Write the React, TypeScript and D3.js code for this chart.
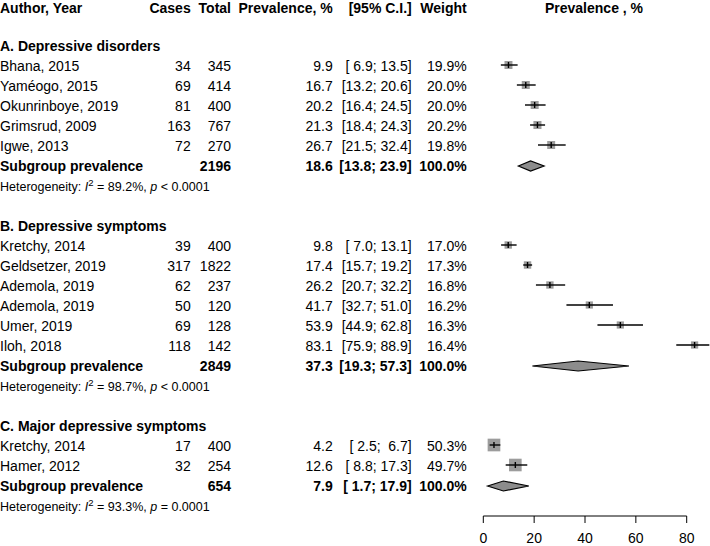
import React from "react";
import * as d3 from "d3";

const groupTitles = ["A. Depressive disorders", "B. Depressive symptoms", "C. Major depressive symptoms"];
const groupTotals = [2196, 2849, 654];
const groupPrev = [18.6, 37.3, 7.9];
const groupLower = [13.8, 19.3, 1.7];
const groupUpper = [23.9, 57.3, 17.9];
const groupI2 = ["89.2%", "98.7%", "93.3%"];
const groupP = ["< 0.0001", "< 0.0001", "= 0.0001"];

const studyAuthors = [
  "Bhana, 2015", "Yaméogo, 2015", "Okunrinboye, 2019", "Grimsrud, 2009", "Igwe, 2013",
  "Kretchy, 2014", "Geldsetzer, 2019", "Ademola, 2019", "Ademola, 2019", "Umer, 2019", "Iloh, 2018",
  "Kretchy, 2014", "Hamer, 2012",
];
const studyGroup = [0, 0, 0, 0, 0, 1, 1, 1, 1, 1, 1, 2, 2];
const studyCases = [34, 69, 81, 163, 72, 39, 317, 62, 50, 69, 118, 17, 32];
const studyTotals = [345, 414, 400, 767, 270, 400, 1822, 237, 120, 128, 142, 400, 254];
const studyPrev = [9.9, 16.7, 20.2, 21.3, 26.7, 9.8, 17.4, 26.2, 41.7, 53.9, 83.1, 4.2, 12.6];
const studyLower = [6.9, 13.2, 16.4, 18.4, 21.5, 7.0, 15.7, 20.7, 32.7, 44.9, 75.9, 2.5, 8.8];
const studyUpper = [13.5, 20.6, 24.5, 24.3, 32.4, 13.1, 19.2, 32.2, 51.0, 62.8, 88.9, 6.7, 17.3];
const studyWeight = [19.9, 20.0, 20.0, 20.2, 19.8, 17.0, 17.3, 16.8, 16.2, 16.3, 16.4, 50.3, 49.7];

const axisTicks = [0, 20, 40, 60, 80];

const FONT = "'Liberation Sans', Arial, Helvetica, sans-serif";
const ROW = 20;
const base = (i: number) => 11 + ROW * i;
const mid = (i: number) => 5 + ROW * i;

const COL_CASES = 190.7;
const COL_TOTAL = 231;
const COL_PREV = 332.7;
const COL_CI = 411.7;
const COL_W = 466.7;

const pad = (v: number) => {
  const s = v.toFixed(1);
  return s.length < 4 ? " " + s : s;
};
const ciText = (lo: number, hi: number) => `[${pad(lo)}; ${pad(hi)}]`;

export default function App() {
  const x = d3.scaleLinear().domain([0, 80]).range([483.3, 686.7]);
  const sq = d3.scaleSqrt().domain([0, 20]).range([0, 8]);

  const items: React.ReactNode[] = [];
  let row = 2;
  groupTitles.forEach((title, g) => {
    items.push(
      <text key={`gt${g}`} x={0} y={base(row)} fontWeight="bold">{title}</text>
    );
    row++;
    studyAuthors.forEach((a, s) => {
      if (studyGroup[s] !== g) return;
      const cy = mid(row);
      const side = sq(studyWeight[s]);
      items.push(
        <g key={`s${s}`}>
          <text x={0} y={base(row)}>{a}</text>
          <text x={COL_CASES} y={base(row)} textAnchor="end">{studyCases[s]}</text>
          <text x={COL_TOTAL} y={base(row)} textAnchor="end">{studyTotals[s]}</text>
          <text x={COL_PREV} y={base(row)} textAnchor="end">{studyPrev[s].toFixed(1)}</text>
          <text x={COL_CI} y={base(row)} textAnchor="end" style={{ whiteSpace: "pre" }}>{ciText(studyLower[s], studyUpper[s])}</text>
          <text x={COL_W} y={base(row)} textAnchor="end">{studyWeight[s].toFixed(1)}%</text>
          <rect x={x(studyPrev[s]) - side / 2} y={cy - side / 2} width={side} height={side} fill="#9c9c9c" />
          <line x1={x(studyLower[s])} x2={x(studyUpper[s])} y1={cy} y2={cy} stroke="#000" strokeWidth={1.4} />
          <line x1={x(studyPrev[s])} x2={x(studyPrev[s])} y1={cy - 3} y2={cy + 3} stroke="#000" strokeWidth={1.4} />
        </g>
      );
      row++;
    });
    const cy = mid(row) + 1;
    const dpath = `M${x(groupLower[g])},${cy} L${x(groupPrev[g])},${cy - 5} L${x(groupUpper[g])},${cy} L${x(groupPrev[g])},${cy + 5} Z`;
    items.push(
      <g key={`sub${g}`} fontWeight="bold">
        <text x={0} y={base(row)}>Subgroup prevalence</text>
        <text x={COL_TOTAL} y={base(row)} textAnchor="end">{groupTotals[g]}</text>
        <text x={COL_PREV} y={base(row)} textAnchor="end">{groupPrev[g].toFixed(1)}</text>
        <text x={COL_CI} y={base(row)} textAnchor="end" style={{ whiteSpace: "pre" }}>{ciText(groupLower[g], groupUpper[g])}</text>
        <text x={COL_W} y={base(row)} textAnchor="end">100.0%</text>
        <path d={dpath} fill="#8c8c8c" stroke="#000" strokeWidth={1.2} />
      </g>
    );
    row++;
    items.push(
      <text key={`het${g}`} x={0} y={base(row)} fontSize={12.5}>
        Heterogeneity: <tspan fontStyle="italic">I</tspan>
        <tspan fontSize={9.5} dy={-5}>2</tspan>
        <tspan dy={5}> = {groupI2[g]}, </tspan>
        <tspan fontStyle="italic">p</tspan>
        <tspan> {groupP[g]}</tspan>
      </text>
    );
    row += 2;
  });

  const axisY = 516;

  return (
    <svg
      width={710}
      height={546}
      style={{ position: "absolute", left: 0, top: 0, background: "#fff" }}
      fontFamily={FONT}
      fontSize={14}
    >
      <rect width={710} height={546} fill="#fff" />
      <g fontWeight="bold">
        <text x={0} y={13}>Author, Year</text>
        <text x={COL_CASES} y={13} textAnchor="end">Cases</text>
        <text x={COL_TOTAL} y={13} textAnchor="end">Total</text>
        <text x={COL_PREV} y={13} textAnchor="end">Prevalence, %</text>
        <text x={COL_CI} y={13} textAnchor="end">[95% C.I.]</text>
        <text x={COL_W} y={13} textAnchor="end">Weight</text>
        <text x={594} y={13} textAnchor="middle">Prevalence , %</text>
      </g>
      {items}
      <g>
        <line x1={x(0)} x2={x(80)} y1={axisY} y2={axisY} stroke="#000" strokeWidth={1} />
        {axisTicks.map((t) => (
          <g key={t}>
            <line x1={x(t)} x2={x(t)} y1={axisY} y2={axisY + 7} stroke="#000" strokeWidth={1} />
            <text x={x(t)} y={543} textAnchor="middle">{t}</text>
          </g>
        ))}
      </g>
    </svg>
  );
}
